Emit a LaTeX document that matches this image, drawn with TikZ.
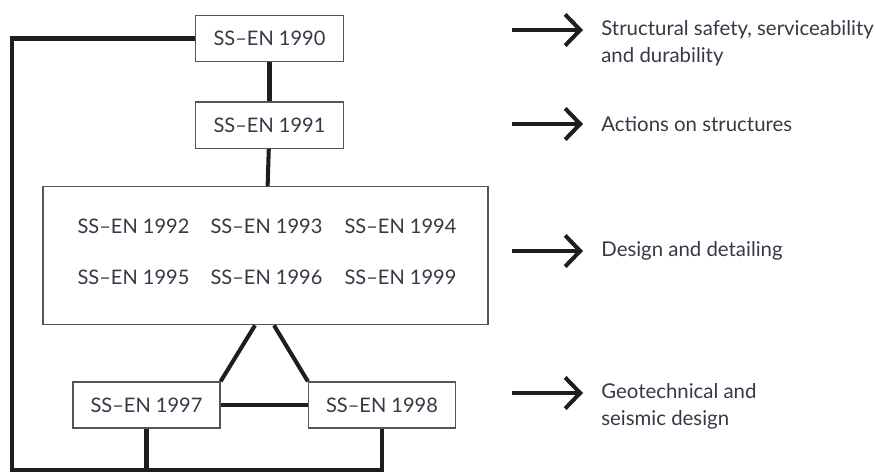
\documentclass[tikz,border=0pt]{standalone}
\usepackage{fontspec}
\setmainfont{Lato}
\usepackage{tikz}
\usetikzlibrary{arrows.meta, positioning, calc}
\definecolor{textColor}{RGB}{55,55,70}
\definecolor{boxColor}{RGB}{85,85,85}
\definecolor{lineColor}{RGB}{30,30,30}
\tikzstyle{code} = [rectangle, minimum width=2.96cm, minimum height=0.93cm, inner sep=0pt, draw=boxColor, line width=0.7pt, text=textColor, font=\fontsize{11.4}{14}\selectfont]
\tikzstyle{part} = [inner sep=0pt, text=textColor, font=\fontsize{11.4}{14}\selectfont]
\tikzstyle{note} = [inner sep=0pt, anchor=west, align=left, text=textColor, font=\fontsize{11.6}{15.3}\selectfont]
\tikzstyle{link} = [line width=2.3pt, lineColor]
\tikzstyle{arrow} = [line width=2.3pt, lineColor, -{Straight Barb[length=0.3cm, width=0.62cm]}]

\begin{document}
\begin{tikzpicture}
            \useasboundingbox (0,0) rectangle (17.5,-9.44);
            % Code boxes
            \node (en1990) [code] at (5.39,-0.77) {SS--EN 1990};
            \node (en1991) [code, below=0.78cm of en1990] {SS--EN 1991};
            \node (en_group) [code, minimum width=8.9cm, minimum height=2.76cm, below=0.74cm of en1991, xshift=-0.08cm] {};
            \node (en1992) [part] at (2.67,-4.52) {SS--EN 1992};
            \node (en1993) [part] at (5.33,-4.52) {SS--EN 1993};
            \node (en1994) [part] at (8.01,-4.52) {SS--EN 1994};
            \node (en1995) [part] at (2.67,-5.54) {SS--EN 1995};
            \node (en1996) [part] at (5.33,-5.54) {SS--EN 1996};
            \node (en1999) [part] at (8.01,-5.54) {SS--EN 1999};
            \node (en1997) [code, minimum width=2.94cm, minimum height=0.92cm] at (2.93,-8.10) {SS--EN 1997};
            \node (en1998) [code, minimum width=2.94cm, minimum height=0.92cm] at (7.64,-8.10) {SS--EN 1998};

            % Links
            \coordinate (base_left) at (0.24,-9.40);
            \draw [link] (en1990) -- (en1991);
            \draw [link] (en1991) -- (en_group);
            \draw [link] ($(en_group.south)+(-0.21,0)$) -- (en1997.north east);
            \draw [link] ($(en_group.south)+(0.17,0)$) -- (en1998.north west);
            \draw [link] (en1997) -- (en1998);
            \draw [link] (en1990.west) -| (base_left) -| (en1998.south);
            \draw [link] (en1997.south) -- (en1997.south |- base_left);

            % Descriptions
            \node (lbl_safety) [note] at (12.02,-0.87) {Structural safety, serviceability\\and durability};
            \node (lbl_actions) [note] at (12.02,-2.48) {Actions on structures};
            \node (lbl_design) [note] at (12.02,-5.02) {Design and detailing};
            \node (lbl_geo) [note] at (12.02,-8.12) {Geotechnical and\\seismic design};

            \coordinate (from_safety) at (10.24,-0.60);
            \coordinate (from_actions) at (10.24,-2.48);
            \coordinate (from_design) at (10.24,-5.02);
            \coordinate (from_geo) at (10.24,-7.86);
            \draw [arrow] (from_safety) -- ($(from_safety -| lbl_safety.west)+(-0.36,0)$);
            \draw [arrow] (from_actions) -- ($(from_actions -| lbl_actions.west)+(-0.36,0)$);
            \draw [arrow] (from_design) -- ($(from_design -| lbl_design.west)+(-0.36,0)$);
            \draw [arrow] (from_geo) -- ($(from_geo -| lbl_geo.west)+(-0.36,0)$);
        \end{tikzpicture}
\end{document}
